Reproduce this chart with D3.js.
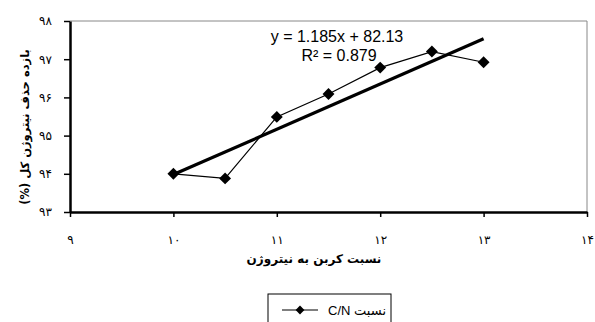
<!DOCTYPE html>
<html>
<head>
<meta charset="utf-8">
<script src="https://cdn.jsdelivr.net/npm/d3@7"></script>
<style>
  body { margin: 0; background: #fff; }
  svg { display: block; }
</style>
</head>
<body>
<div id="chart"></div>
<script>
// carbon to nitrogen ratio vs total nitrogen removal
const cnRatio = [10, 10.5, 11, 11.5, 12, 12.5, 13];
const removal = [94.0, 93.88, 95.49, 96.09, 96.78, 97.2, 96.92];
const xTicks = [9, 10, 11, 12, 13, 14];
const yTicks = [93, 94, 95, 96, 97, 98];
const trendSlope = 1.185;
const trendIntercept = 82.13;
const trendLabel = 'y = 1.185x + 82.13';
const r2Label = 'R² = 0.879';
const xTitle = 'نسبت کربن به نیتروژن';
const yTitle = 'بازده حذف نیتروژن کل (%)';
const legendLabel = 'نسبت C/N';

const fa = n => String(n).replace(/\d/g, c => '۰۱۲۳۴۵۶۷۸۹'[c]);
const faFont = '"DejaVu Sans", sans-serif';

const W = 595, H = 322;
const margin = { top: 21, right: 8, bottom: 110, left: 70 };
const width = W - margin.left - margin.right;
const height = H - margin.top - margin.bottom;

const svg = d3.select('#chart').append('svg')
  .attr('width', W)
  .attr('height', H);

const g = svg.append('g')
  .attr('transform', `translate(${margin.left},${margin.top})`);

const x = d3.scaleLinear().domain([9, 14]).range([0, width]);
const y = d3.scaleLinear().domain([93, 98]).range([height, 0]);

// plot frame (gray top and right)
g.append('path')
  .attr('d', `M0,0H${width}V${height}`)
  .style('fill', 'none')
  .style('stroke', '#888')
  .style('stroke-width', 1);

const xAx = g.append('g')
  .attr('transform', `translate(0,${height})`)
  .call(d3.axisBottom(x).tickValues(xTicks).tickSize(5).tickSizeOuter(0).tickPadding(18).tickFormat(fa));

const yAx = g.append('g')
  .call(d3.axisLeft(y).tickValues(yTicks).tickSize(6).tickSizeOuter(0).tickPadding(12).tickFormat(fa));

[xAx, yAx].forEach(ax => {
  ax.select('.domain').style('stroke', '#000').style('stroke-width', 2.5);
  ax.selectAll('.tick line').style('stroke', '#000').style('stroke-width', 1.5);
  ax.selectAll('.tick text')
    .style('font-family', faFont)
    .style('font-size', '12px')
    .style('fill', '#000');
});

// data line
const line = d3.line()
  .x((d, i) => x(cnRatio[i]))
  .y(d => y(d));

g.append('path')
  .datum(removal)
  .attr('d', line)
  .style('fill', 'none')
  .style('stroke', '#000')
  .style('stroke-width', 1.2);

// trend line
const x0 = d3.min(cnRatio), x1 = d3.max(cnRatio);
g.append('line')
  .attr('x1', x(x0))
  .attr('y1', y(trendSlope * x0 + trendIntercept))
  .attr('x2', x(x1))
  .attr('y2', y(trendSlope * x1 + trendIntercept))
  .style('stroke', '#000')
  .style('stroke-width', 3.2);

const diamond = d3.symbol().type(d3.symbolDiamond2).size(90);

g.selectAll('.pt')
  .data(removal)
  .enter().append('path')
  .attr('class', 'pt')
  .attr('d', diamond)
  .attr('transform', (d, i) => `translate(${x(cnRatio[i])},${y(d)})`)
  .style('fill', '#000');

// equation
g.append('text')
  .attr('x', 267)
  .attr('y', 21)
  .attr('text-anchor', 'middle')
  .style('font-family', '"Liberation Sans", Arial, sans-serif')
  .style('font-size', '16px')
  .text(trendLabel);

g.append('text')
  .attr('x', 269)
  .attr('y', 40)
  .attr('text-anchor', 'middle')
  .style('font-family', '"Liberation Sans", Arial, sans-serif')
  .style('font-size', '16px')
  .text(r2Label);

// axis titles
svg.append('text')
  .attr('x', 314)
  .attr('y', 263)
  .attr('text-anchor', 'middle')
  .attr('direction', 'rtl')
  .style('font-family', faFont)
  .style('font-size', '12px')
  .style('font-weight', 'bold')
  .text(xTitle);

svg.append('text')
  .attr('transform', 'translate(29,127) rotate(-90)')
  .attr('text-anchor', 'middle')
  .attr('direction', 'rtl')
  .style('font-family', faFont)
  .style('font-size', '11.5px')
  .style('font-weight', 'bold')
  .text(yTitle);

// legend
const leg = svg.append('g').attr('transform', 'translate(268,294)');
leg.append('rect')
  .attr('width', 123)
  .attr('height', 40)
  .style('fill', '#fff')
  .style('stroke', '#000')
  .style('stroke-width', 1);
leg.append('line')
  .attr('x1', 14).attr('x2', 50)
  .attr('y1', 16).attr('y2', 16)
  .style('stroke', '#000')
  .style('stroke-width', 1.2);
leg.append('path')
  .attr('d', d3.symbol().type(d3.symbolDiamond2).size(50))
  .attr('transform', 'translate(32,16)')
  .style('fill', '#000');
leg.append('text')
  .attr('x', 118)
  .attr('y', 21)
  .attr('text-anchor', 'start')
  .attr('direction', 'rtl')
  .style('font-family', '"Liberation Sans", "DejaVu Sans", sans-serif')
  .style('font-size', '13px')
  .text(legendLabel);
</script>
</body>
</html>
